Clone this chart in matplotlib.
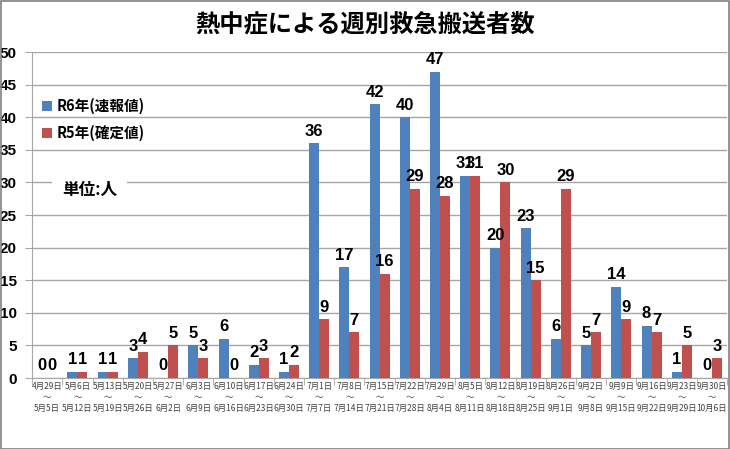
import matplotlib
matplotlib.use("Agg")
import matplotlib.pyplot as plt
import numpy as np
from matplotlib.patches import Rectangle

plt.rcParams['font.family'] = ['Noto Sans CJK JP', 'DejaVu Sans']

starts = ["4月29日", "5月6日", "5月13日", "5月20日", "5月27日", "6月3日", "6月10日", "6月17日",
          "6月24日", "7月1日", "7月8日", "7月15日", "7月22日", "7月29日", "8月5日", "8月12日",
          "8月19日", "8月26日", "9月2日", "9月9日", "9月16日", "9月23日", "9月30日"]
ends = ["5月5日", "5月12日", "5月19日", "5月26日", "6月2日", "6月9日", "6月16日", "6月23日",
        "6月30日", "7月7日", "7月14日", "7月21日", "7月28日", "8月4日", "8月11日", "8月18日",
        "8月25日", "9月1日", "9月8日", "9月15日", "9月22日", "9月29日", "10月6日"]
r6 = [0, 1, 1, 3, 0, 5, 6, 2, 1, 36, 17, 42, 40, 47, 31, 20, 23, 6, 5, 14, 8, 1, 0]
r5 = [0, 1, 1, 4, 5, 3, 0, 3, 2, 9, 7, 16, 29, 28, 31, 30, 15, 29, 7, 9, 7, 5, 3]

blue = "#4F81BD"
red = "#C0504D"
numfont = ['Liberation Sans', 'DejaVu Sans']

fig = plt.figure(figsize=(7.3, 4.49), dpi=100)
ax = fig.add_axes([0.044, 0.158, 0.952, 0.726])

x = np.arange(len(starts))
w = 0.33
ax.bar(x - w / 2, r6, w, color=blue, label="R6年(速報値)", zorder=3)
ax.bar(x + w / 2, r5, w, color=red, label="R5年(確定値)", zorder=3)

for xi, v in zip(x, r6):
    ax.text(xi - w / 2, v + 0.7, str(v), ha='center', va='bottom', fontsize=12,
            fontweight='bold', family=numfont, zorder=5)
for xi, v in zip(x, r5):
    ax.text(xi + w / 2, v + 0.7, str(v), ha='center', va='bottom', fontsize=12,
            fontweight='bold', family=numfont, zorder=5)

ax.set_xlim(-0.5, len(starts) - 0.5)
ax.set_ylim(0, 50)
ax.set_yticks(range(0, 51, 5))
ax.yaxis.grid(True, color="#A6A6A6", linewidth=1, zorder=0)
ax.set_axisbelow(True)
for s in ['top', 'right']:
    ax.spines[s].set_visible(False)
ax.spines['left'].set_color("#A6A6A6")
ax.spines['bottom'].set_color("#A6A6A6")

ax.tick_params(axis='y', length=5, color="#A6A6A6", pad=6, labelsize=11)
for lab in ax.get_yticklabels():
    lab.set_fontweight('bold')
    lab.set_family(numfont)

ax.set_xticks(x)
ax.set_xticklabels([f"{s}\n～\n{e}" for s, e in zip(starts, ends)], fontsize=6,
                   linespacing=1.25, color="#404040")
ax.tick_params(axis='x', length=0, pad=3)
ax.set_xticks(np.arange(-0.5, len(starts), 1), minor=True)
ax.tick_params(axis='x', which='minor', length=5, color="#A6A6A6")

ax.legend(loc='upper left', bbox_to_anchor=(-0.005, 0.90), frameon=False,
          prop={'size': 10.5, 'weight': 'bold'}, handlelength=0.7, handleheight=0.7,
          handletextpad=0.3, labelspacing=0.75)

fig.text(0.085, 0.577, "単位:人", fontsize=12, fontweight='bold',
         ha='left', va='center',
         bbox=dict(boxstyle='square,pad=0.6', facecolor='white', edgecolor='none'), zorder=6)

fig.text(0.5, 0.945, "熱中症による週別救急搬送者数", ha='center', va='center', fontsize=17.5,
         fontweight='bold')

fig.patches.append(Rectangle((0.001, 0.001), 0.997, 0.997, transform=fig.transFigure,
                             fill=False, edgecolor="#808080", linewidth=1.2))

fig.savefig("out.png", dpi=100)
